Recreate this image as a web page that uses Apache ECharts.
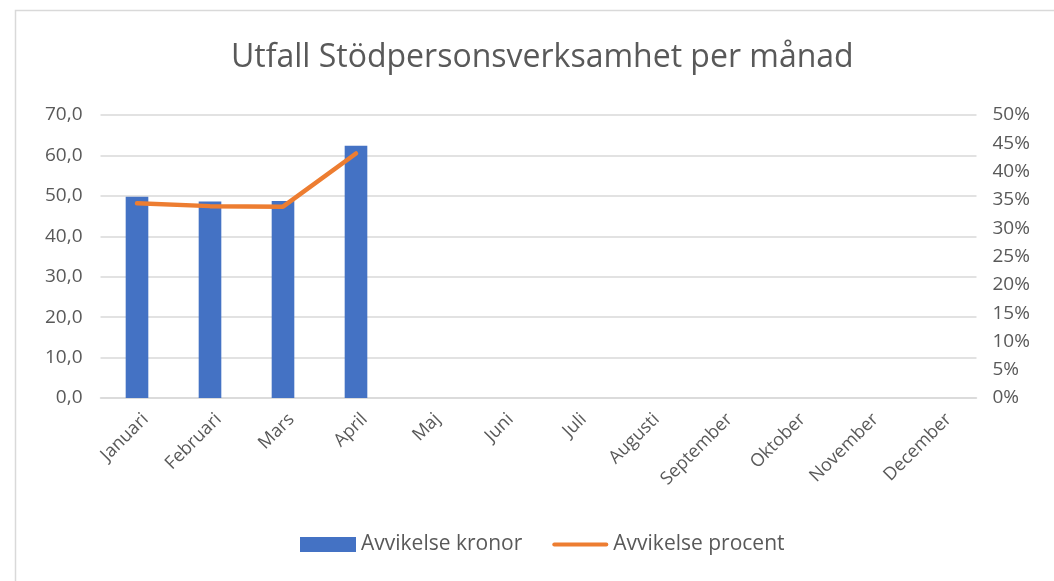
<!DOCTYPE html>
<html>
<head>
<meta charset="utf-8">
<script src="https://cdn.jsdelivr.net/npm/echarts@6/dist/echarts.min.js"></script>
<style>
html,body{margin:0;padding:0;background:#fff;}
#chart{width:1054px;height:581px;}
</style>
</head>
<body>
<div id="chart"></div>
<script>
const categories = ['Januari','Februari','Mars','April','Maj','Juni','Juli','Augusti','September','Oktober','November','December'];
const kronor = [49.8, 48.6, 48.7, 62.4, null, null, null, null, null, null, null, null];
const procent = [34.4, 33.9, 33.8, 43.2, null, null, null, null, null, null, null, null];
const title = 'Utfall Stödpersonsverksamhet per månad';
const seriesNames = ['Avvikelse kronor', 'Avvikelse procent'];

const FONT = '"Open Sans", "Noto Sans", sans-serif';
const TXT = '#595959';
const chart = echarts.init(document.getElementById('chart'), null, {renderer:'canvas'});
chart.setOption({
  animation:false,
  backgroundColor:'#fff',
  textStyle:{fontFamily:FONT},
  graphic:[{type:'rect', left:13, top:8, shape:{width:1100, height:640}, style:{fill:'none', stroke:'#d9d9d9', lineWidth:1.5}, silent:true}],
  title:{text:title, left:226, top:37, textStyle:{fontFamily:FONT, fontSize:32, fontWeight:'normal', color:TXT}},
  legend:{bottom:21, left:295, itemGap:30, itemWidth:56, itemHeight:15,
    textStyle:{fontFamily:FONT, fontSize:21, color:TXT},
    data:[{name:seriesNames[0], icon:'rect'}, {name:seriesNames[1], icon:'path://M2,0 L54,0 A2,2 0 0 1 54,4 L2,4 A2,2 0 0 1 2,0 Z', itemStyle:{color:'#ed7d31'}}]},
  grid:{left:100.5, right:77.5, top:115, bottom:183, containLabel:false},
  xAxis:{type:'category', data:categories,
    axisLine:{lineStyle:{color:'#d9d9d9', width:1.5}}, axisTick:{show:false},
    axisLabel:{rotate:45, interval:0, fontFamily:FONT, fontSize:18, color:TXT, margin:27, padding:[0,-12,0,0]}},
  yAxis:[{type:'value', min:0, max:70, interval:10,
      axisLine:{show:false}, axisTick:{show:false},
      splitLine:{lineStyle:{color:'#d9d9d9', width:1.5}},
      axisLabel:{fontFamily:FONT, fontSize:19, color:TXT, margin:18, formatter:v=>v.toFixed(1).replace('.',',')}},
    {type:'value', min:0, max:50, interval:5, position:'right',
      axisLine:{show:false}, axisTick:{show:false}, splitLine:{show:false},
      axisLabel:{fontFamily:FONT, fontSize:19, color:TXT, margin:16, formatter:'{value}%'}}],
  series:[
    {name:seriesNames[0], type:'bar', data:kronor, barWidth:'31%', itemStyle:{color:'#4472c4'}},
    {name:seriesNames[1], type:'line', yAxisIndex:1, data:procent, showSymbol:false, symbol:'none',
      lineStyle:{color:'#ed7d31', width:4.5, cap:'round', join:'round'}, itemStyle:{color:'#ed7d31'}}
  ]
});
</script>
</body>
</html>
